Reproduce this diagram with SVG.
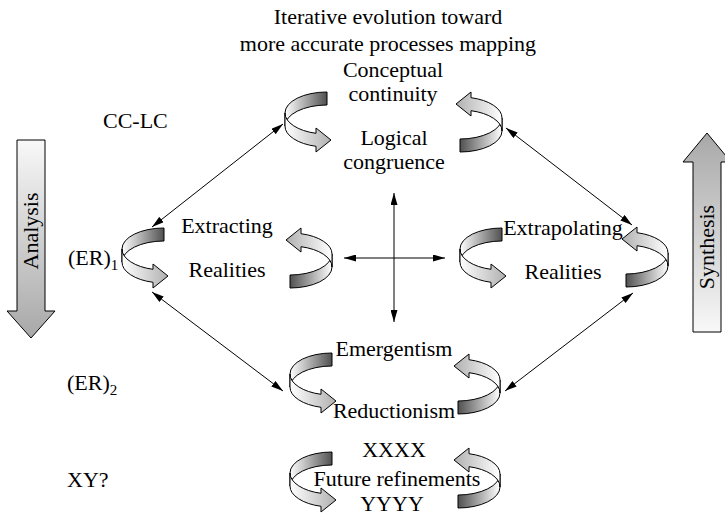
<svg xmlns="http://www.w3.org/2000/svg" xmlns:xlink="http://www.w3.org/1999/xlink" width="725" height="516" viewBox="0 0 725 516" font-family="'Liberation Serif', 'DejaVu Serif', serif">
<style>
text{font-family:"Liberation Serif","DejaVu Serif",serif;font-size:22px;fill:#000}
.c{text-anchor:middle}
.curl path{stroke:#000;stroke-width:1;stroke-linejoin:round}
.conn line{stroke:#000;stroke-width:1;fill:none}
.big{stroke:#000;stroke-width:1}
</style>
<defs>
<linearGradient id="gBack" gradientUnits="userSpaceOnUse" x1="42" y1="0" x2="0" y2="0">
<stop offset="0" stop-color="#505050"/><stop offset="1" stop-color="#ffffff"/>
</linearGradient>
<linearGradient id="gFront" gradientUnits="userSpaceOnUse" x1="0" y1="0" x2="46" y2="0">
<stop offset="0" stop-color="#ffffff"/><stop offset="1" stop-color="#b0b0b0"/>
</linearGradient>
<linearGradient id="gAna" x1="0" y1="0" x2="0" y2="1">
<stop offset="0" stop-color="#f8f8f8"/><stop offset="1" stop-color="#a8a8a8"/>
</linearGradient>
<linearGradient id="gSyn" x1="0" y1="1" x2="0" y2="0">
<stop offset="0" stop-color="#f8f8f8"/><stop offset="1" stop-color="#a8a8a8"/>
</linearGradient>
<g id="curl" class="curl">
<path d="M42,0 A42,21 0 0 0 0,21 L0,34 A42,21 0 0 1 42,13 Z" fill="url(#gBack)"/>
<path d="M0,21 A42,21 0 0 0 31,41.3 L31,36 L46,48 L31,60 L31,54.3 A42,21 0 0 1 0,34 Z" fill="url(#gFront)"/>
</g>
<marker id="ah" viewBox="0 0 12 7" refX="12" refY="3.5" markerWidth="12" markerHeight="7" markerUnits="userSpaceOnUse" orient="auto-start-reverse">
<path d="M0,0 L12,3.5 L0,7 Z" fill="#000"/>
</marker>
</defs>

<g id="analysis-arrow">
<path class="big" d="M17,140 H45 V311 H55 L31,338 L7,311 H17 Z" fill="url(#gAna)"/>
<text class="c" font-size="21" transform="translate(38,231) rotate(-90)">Analysis</text>
</g>
<g id="synthesis-arrow">
<path class="big" d="M693,332 V162 H683 L707,133 L731,162 H721 V332 Z" fill="url(#gSyn)"/>
<text class="c" font-size="21" transform="translate(714,247) rotate(-90)">Synthesis</text>
</g>

<g id="curls">
<use id="curl-cc-left" xlink:href="#curl" href="#curl" transform="translate(285,92)"/>
<use id="curl-cc-right" xlink:href="#curl" href="#curl" transform="translate(502,152) rotate(180)"/>
<use id="curl-er1-left" xlink:href="#curl" href="#curl" transform="translate(122,228)"/>
<use id="curl-er1-right" xlink:href="#curl" href="#curl" transform="translate(332,288) rotate(180)"/>
<use id="curl-ext-left" xlink:href="#curl" href="#curl" transform="translate(460,228)"/>
<use id="curl-ext-right" xlink:href="#curl" href="#curl" transform="translate(668,287) rotate(180)"/>
<use id="curl-er2-left" xlink:href="#curl" href="#curl" transform="translate(290,353)"/>
<use id="curl-er2-right" xlink:href="#curl" href="#curl" transform="translate(500,414) rotate(180)"/>
<use id="curl-xy-left" xlink:href="#curl" href="#curl" transform="translate(290,452)"/>
<use id="curl-xy-right" xlink:href="#curl" href="#curl" transform="translate(500,508) rotate(180)"/>
</g>

<g id="connectors" class="conn">
<line x1="152" y1="227" x2="283" y2="124" marker-start="url(#ah)" marker-end="url(#ah)"/>
<line x1="506" y1="128" x2="632" y2="225" marker-start="url(#ah)" marker-end="url(#ah)"/>
<line x1="152" y1="292" x2="283" y2="391" marker-start="url(#ah)" marker-end="url(#ah)"/>
<line x1="505" y1="391" x2="633" y2="293" marker-start="url(#ah)" marker-end="url(#ah)"/>
<line x1="394" y1="193" x2="394" y2="322" marker-start="url(#ah)" marker-end="url(#ah)"/>
<line x1="344" y1="258" x2="445" y2="258" marker-start="url(#ah)" marker-end="url(#ah)"/>
</g>

<g id="title"><text class="c" x="388" y="24">Iterative evolution toward</text><text class="c" x="388" y="51">more accurate processes mapping</text></g>
<g id="cc-lc"><text class="c" x="393" y="77">Conceptual</text><text class="c" x="393" y="101">continuity</text><text class="c" x="394" y="145">Logical</text><text class="c" x="394" y="169">congruence</text></g>
<g id="label-cclc"><text x="103" y="128">CC-LC</text></g>
<g id="label-er1"><text x="68" y="265">(ER)<tspan font-size="15" dy="5">1</tspan></text></g>
<g id="label-er2"><text x="67" y="390">(ER)<tspan font-size="15" dy="5">2</tspan></text></g>
<g id="label-xy"><text x="67" y="487">XY?</text></g>
<g id="extracting"><text class="c" x="227" y="233">Extracting</text><text class="c" x="227" y="277">Realities</text></g>
<g id="extrapolating"><text class="c" x="563" y="235">Extrapolating</text><text class="c" x="563" y="279">Realities</text></g>
<g id="emergentism"><text class="c" x="394" y="356">Emergentism</text><text class="c" x="394" y="418">Reductionism</text></g>
<g id="future"><text class="c" x="394" y="457">XXXX</text><text class="c" x="397" y="486">Future refinements</text><text class="c" x="392" y="511">YYYY</text></g>
</svg>
